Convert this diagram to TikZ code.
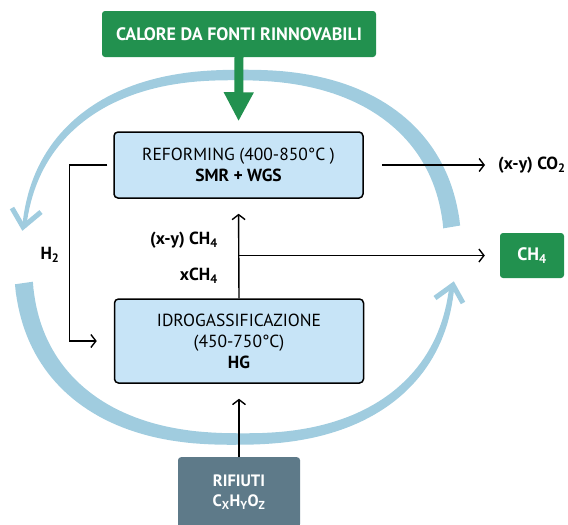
\documentclass[tikz,border=0pt]{standalone}
\usepackage{fontspec}
\setmainfont{PT Sans}
\usetikzlibrary{arrows.meta}
\usetikzlibrary{calc}

\definecolor{verde}{HTML}{22914F}
\definecolor{azzurro}{HTML}{C7E4F7}
\definecolor{anello}{HTML}{A0CCDF}
\definecolor{ardesia}{HTML}{5E7A89}

\tikzset{
  fase/.style={draw=black, line width=1.5pt, fill=azzurro, rounded corners=4pt,
    minimum width=249pt, align=center, font=\fontsize{17.5}{21}\selectfont},
  verdebox/.style={fill=verde, text=white, rounded corners=3pt, align=center,
    font=\fontsize{18}{20}\selectfont\bfseries},
  flusso/.style={line width=1.4pt, -{Straight Barb[length=5pt,width=13pt,line width=1.4pt]}},
  etichetta/.style={font=\fontsize{17.5}{20}\selectfont\bfseries, inner sep=0pt},
}

\begin{document}
\begin{tikzpicture}[x=1pt,y=-1pt,
  declare function={ce(\t)=sign(cos(\t))*(abs(cos(\t))+0.0001)^0.85;
                    se(\t)=sign(sin(\t))*(abs(sin(\t))+0.0001)^0.85;
                    wu(\t)=17-13*(\t-6.9)/166.2;
                    wl(\t)=18-13*(\t-185.8)/167.8;}]
  \useasboundingbox (0,0) rectangle (568,525);

  % anello di calore
  \fill[anello] plot[domain=6.9:173.1, samples=90, variable=\t]
      ({238+(215+wu(\t)/2)*ce(\t)}, {257-(182+wu(\t)/2)*se(\t)})
    -- plot[domain=173.1:6.9, samples=90, variable=\t]
      ({238+(215-wu(\t)/2)*ce(\t)}, {257-(182-wu(\t)/2)*se(\t)}) -- cycle;
  \fill[anello] plot[domain=185.8:353.6, samples=90, variable=\t]
      ({238+(215+wl(\t)/2)*ce(\t)}, {257-(182+wl(\t)/2)*se(\t)})
    -- plot[domain=353.6:185.8, samples=90, variable=\t]
      ({238+(215-wl(\t)/2)*ce(\t)}, {257-(182-wl(\t)/2)*se(\t)}) -- cycle;
  \draw[anello, line width=5pt] (12,208) -- (23,227) -- (41,212);
  \draw[anello, line width=5pt] (435,298) -- (453,285) -- (463,303);

  \node[verdebox, minimum width=274pt, minimum height=46pt] (calore) at (239,34) {CALORE DA FONTI RINNOVABILI};
  \node[fase, minimum height=66pt] (reform) at (238.5,165) {REFORMING (400-850°C )\\\textbf{SMR + WGS}};
  \node[fase, minimum height=84pt] (idro) at (239,341) {IDROGASSIFICAZIONE\\(450-750°C)\\\textbf{HG}};
  \node[verdebox, fill=ardesia, font=\fontsize{16.5}{20}\selectfont\bfseries, minimum width=122pt, minimum height=70pt, anchor=north] (rifiuti) at (239,457)
    {RIFIUTI\\C\textsubscript{X}H\textsubscript{Y}O\textsubscript{Z}};
  \node[verdebox, minimum width=64pt, minimum height=45pt] (metano) at (532,255.5) {CH\textsubscript{4}};
  \node[etichetta, anchor=west] (co2) at (498,165) {(x-y) CO\textsubscript{2}};
  \node[etichetta] (h2) at (50,255) {H\textsubscript{2}};
  \node[etichetta, anchor=east] (ch4a) at (218,240) {(x-y) CH\textsubscript{4}};
  \node[etichetta, anchor=east] (ch4b) at (218,276) {xCH\textsubscript{4}};

  \draw[verde, line width=9pt, shorten >=10pt, -{Triangle[length=29pt,width=28pt]}] (calore.south) -- (reform.north);
  \draw[flusso, shorten <=18pt, shorten >=13pt] (reform.east) -- (co2.west);
  \draw[flusso, shorten <=6pt, shorten >=17pt] (reform.west) -- ++(-44,0) |- (idro.west);
  \draw[flusso, shorten >=15pt] (idro.north) -- (reform.south);
  \coordinate (nodo) at (idro.north |- metano.west);
  \draw[flusso, shorten >=15pt] (nodo) -- (metano.west);
  \draw[flusso, shorten >=15pt] (rifiuti.north) -- (idro.south);
\end{tikzpicture}
\end{document}
